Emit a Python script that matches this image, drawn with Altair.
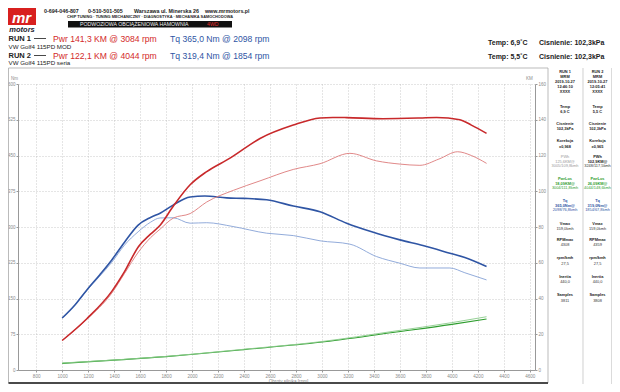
import altair as alt
import pandas as pd

# ---------------- data ----------------
rpm_tq1 = [1000, 1100, 1190, 1290, 1382, 1480, 1585, 1680, 1754, 1854, 1985, 2098, 2267, 2400, 2574, 2780, 2985, 3190, 3383, 3600, 3777, 3985, 4100, 4267]
tq1 = [109, 137, 168, 200, 231, 268, 304, 320, 329, 346, 363, 365, 361, 360, 357, 344, 332, 308, 290, 273, 261, 245, 236, 217]

rpm_tq2 = [1000, 1100, 1190, 1290, 1382, 1480, 1585, 1680, 1754, 1854, 1985, 2113, 2315, 2574, 2780, 2985, 3215, 3420, 3600, 3754, 3985, 4100, 4267]
tq2 = [109, 137, 167, 197, 226, 262, 290, 310, 319, 319.4, 308, 309, 301, 287, 282, 271, 264, 238, 224, 214, 214, 204, 189]

rpm_pw1 = [1000, 1190, 1382, 1480, 1587, 1680, 1754, 1856, 1985, 2113, 2292, 2523, 2779, 2985, 3084, 3190, 3469, 3754, 3882, 4062, 4150, 4267]
pw1 = [16.5, 28.7, 44, 55, 69, 76, 81, 91.7, 103.6, 111, 118.5, 129.5, 137, 141, 141.3, 141.2, 140.6, 141, 141.3, 140, 137, 132.4]

rpm_pw2 = [1000, 1190, 1382, 1480, 1587, 1680, 1754, 1856, 1985, 2113, 2318, 2523, 2779, 2985, 3215, 3420, 3600, 3754, 3900, 4044, 4150, 4267]
pw2 = [16.5, 28.4, 43, 54, 66, 74, 78.8, 85, 87.5, 94, 100.5, 105.8, 112.2, 115.4, 121.2, 117, 115.2, 114.5, 118, 122.1, 120, 115.6]

rpm_ls1 = [1000, 1400, 1800, 2010, 2400, 2985, 3546, 4000, 4267]
ls1 = [3.7, 5.5, 7.5, 8.8, 11.4, 15.5, 21, 25.5, 28.5]
rpm_ls2 = [1000, 1400, 1800, 2010, 2400, 2985, 3546, 4000, 4267]
ls2 = [3.9, 5.6, 7.6, 8.9, 11.6, 15.8, 21.6, 26.5, 29.8]

x_ticks = list(range(800, 4601, 200))
nm_ticks = list(range(0, 601, 75))
km_ticks = list(range(0, 161, 20))

panel_labels = ["RUN 1", "RUN 2"]
panel_dates = ["2019-10-27", "2019-10-27"]
panel_times = ["12:46:10", "12:05:41"]
panel_temp = ["6,9 C", "5,5 C"]
panel_press = ["102,3kPa", "102,3kPa"]
panel_korr = ["x0,968", "x0,965"]
panel_pwh = ["125,6KM@", "102,9KM@"]
panel_pwh_at = ["3005/109,8kmh", "3248/117,5kmh"]
panel_los = ["18,09KM@", "26,09KM@"]
panel_los_at = ["3004/111,8kmh", "4044/148,6kmh"]
panel_tq = ["365,0Nm@", "319,0Nm@"]
panel_tq_at = ["2098/76,8kmh", "1854/67,8kmh"]
panel_vmax = ["159,0kmh", "159,0kmh"]
panel_rpmmax = ["4308", "4359"]
panel_ratio = ["27,5", "27,5"]
panel_inertia = ["440,0", "440,0"]
panel_samples = ["3811", "3808"]

# ---------------- layout ----------------
W, H = 517, 286
OX, OY = 18, 84
FONT = "Liberation Sans"
RED = "#d32a2a"
BLUE = "#2f55a4"
GREEN = "#2f9e2f"
GRAY = "#8a8a8a"

one = alt.Data(values=[{"k": 0}])


def txt(s, x, y, size=5, color="#222", bold=False, align="center", italic=False):
    return alt.Chart(one).mark_text(
        text=s, fontSize=size, color=color, font=FONT,
        fontWeight="bold" if bold else "normal",
        fontStyle="italic" if italic else "normal",
        align=align, baseline="middle",
    ).encode(x=alt.value(x - OX), y=alt.value(y - OY))


def rect(x1, x2, y1, y2, fill="#000", opacity=1.0, stroke=None, sw=0.8):
    kw = dict(fill=fill, fillOpacity=opacity)
    if stroke:
        kw.update(stroke=stroke, strokeWidth=sw)
    return alt.Chart(one).mark_rect(**kw).encode(
        x=alt.value(x1 - OX), x2=alt.value(x2 - OX),
        y=alt.value(y1 - OY), y2=alt.value(y2 - OY))


def hrule(x1, x2, y, color="#999", sw=0.8):
    return alt.Chart(one).mark_rule(color=color, strokeWidth=sw).encode(
        x=alt.value(x1 - OX), x2=alt.value(x2 - OX), y=alt.value(y - OY))


def vrule(x, y1, y2, color="#999", sw=0.8):
    return alt.Chart(one).mark_rule(color=color, strokeWidth=sw).encode(
        x=alt.value(x - OX), y=alt.value(y1 - OY), y2=alt.value(y2 - OY))


x_enc = alt.X(
    "rpm:Q",
    scale=alt.Scale(domain=[660, 4640], nice=False, zero=False),
    axis=alt.Axis(values=x_ticks, format="d", title="Obroty silnika [rpm]",
                  grid=True, gridDash=[1, 2], gridColor="#b5b5b5", gridWidth=0.7,
                  labelFontSize=4.6, labelColor=GRAY, labelFont=FONT,
                  titleFontSize=4.6, titleColor=GRAY, titleFont=FONT,
                  titleFontWeight="normal", titlePadding=0, titleX=270,
                  tickColor="#999", tickSize=2, labelPadding=1.5,
                  domainColor="#999", labelOverlap=False),
)

nm_axis = alt.Axis(values=nm_ticks, title=None, grid=True, gridDash=[1, 2],
                   gridColor="#b5b5b5", gridWidth=0.7, labelFontSize=4.5,
                   labelColor=GRAY, labelFont=FONT, tickColor="#999",
                   tickSize=2, labelPadding=1, domainColor="#999")
km_axis = alt.Axis(values=km_ticks, title=None, orient="right", grid=False,
                   labelFontSize=4.5, labelColor=GRAY, labelFont=FONT,
                   tickColor="#999", tickSize=2, labelPadding=1,
                   domainColor="#999")


def line(rpms, vals, field, color, width, axis, domain):
    df = pd.DataFrame({"rpm": rpms, field: vals})
    return alt.Chart(df).mark_line(color=color, strokeWidth=width,
                                   interpolate="monotone").encode(
        x=x_enc,
        y=alt.Y(f"{field}:Q", scale=alt.Scale(domain=domain, nice=False),
                axis=axis),
    )


torque = alt.layer(
    line(rpm_tq2, tq2, "Nm", "#86a2d6", 0.9, nm_axis, [0, 600]),
    line(rpm_tq1, tq1, "Nm", BLUE, 1.6, nm_axis, [0, 600]),
)
power = alt.layer(
    line(rpm_ls1, ls1, "KM", GREEN, 1.1, km_axis, [0, 160]),
    line(rpm_ls2, ls2, "KM", "#8acb8a", 0.9, km_axis, [0, 160]),
    line(rpm_pw2, pw2, "KM", "#dc7a7a", 0.9, km_axis, [0, 160]),
    line(rpm_pw1, pw1, "KM", "#c8292b", 1.6, km_axis, [0, 160]),
)

# ---------------- decoration / frame ----------------
deco = [
    rect(8.5, 548, 68, 383, fill="#ffffff", opacity=0, stroke="#aaa", sw=0.8),
    rect(8.5, 548, 382, 384, fill="#4a4a4a"),
    vrule(583, 68, 384, "#bbb", 0.7),
    vrule(611.5, 68, 384, "#ccc", 0.7),
    # logo
    rect(8, 36, 8, 25, fill="#d8201f"),
    rect(68, 232, 21, 27.5, fill="#111"),
    hrule(34, 46, 38.5, "#333", 0.9),
    hrule(34, 46, 55.5, "#333", 0.9),
]

texts = [
    txt("mr", 21.5, 17.5, size=15, color="#ffffff", bold=True, italic=True),
    txt("motors", 22, 29.5, size=7.5, color="#1b1b2e", bold=True, italic=True),
    txt("0-694-046-807", 44, 11, size=5.3, bold=True, align="left"),
    txt("0-510-501-505", 88, 11, size=5.3, bold=True, align="left"),
    txt("Warszawa ul. Minerska 26", 134, 11, size=5.3, bold=True, align="left"),
    txt("www.mrmotors.pl", 205, 11, size=5.3, bold=True, align="left"),
    txt("CHIP TUNING · TUNING MECHANICZNY · DIAGNOSTYKA · MECHANIKA SAMOCHODOWA",
        150, 17, size=3.9, bold=True),
    txt("PODWOZIOWA OBCIĄŻENIOWA HAMOWNIA", 80, 24.3, size=5.2, color="#eeeeee",
        align="left"),
    txt("4WD", 207, 24.3, size=5.2, color="#e02a2a", align="left"),
    txt("RUN 1", 8.5, 38.5, size=7.5, bold=True, align="left"),
    txt("Pwr 141,3 KM @ 3084 rpm", 53, 39, size=8.6, color=RED, align="left"),
    txt("Tq 365,0 Nm @ 2098 rpm", 170, 39, size=8.6, color=BLUE, align="left"),
    txt("VW Golf4 115PD MOD", 8.5, 46.5, size=6.2, align="left"),
    txt("RUN 2", 8.5, 55.5, size=7.5, bold=True, align="left"),
    txt("Pwr 122,1 KM @ 4044 rpm", 53, 56, size=8.6, color=RED, align="left"),
    txt("Tq 319,4 Nm @ 1854 rpm", 170, 56, size=8.6, color=BLUE, align="left"),
    txt("VW Golf4 115PD seria", 8.5, 63.3, size=6.2, align="left"),
    txt("Temp: 6,9˚C", 488, 43, size=7, bold=True, align="left"),
    txt("Cisnienie: 102,3kPa", 539, 43, size=7, bold=True, align="left"),
    txt("Temp: 5,5˚C", 488, 57, size=7, bold=True, align="left"),
    txt("Cisnienie: 102,3kPa", 539, 57, size=7, bold=True, align="left"),
    txt("Nm", 11, 79, size=4.5, color=GRAY, align="left"),
    txt("KM", 526, 79, size=4.5, color=GRAY, align="left"),
]

cols = [565, 597.5]
for i, cx in enumerate(cols):
    rows = [
        (panel_labels[i], 72, True, "#222"),
        ("MRM", 77, True, "#222"),
        (panel_dates[i], 82, True, "#222"),
        (panel_times[i], 87, True, "#222"),
        ("XXXX", 92, True, "#222"),
        ("Temp", 107, True, "#222"),
        (panel_temp[i], 112, True, "#222"),
        ("Cisnienie", 124, True, "#222"),
        (panel_press[i], 129, True, "#222"),
        ("Korekcja", 141, True, "#222"),
        (panel_korr[i], 147, True, "#222"),
        ("PWh", 157, i == 1, "#999" if i == 0 else "#222"),
        (panel_pwh[i], 161.5, i == 1, "#999" if i == 0 else "#222"),
        (panel_pwh_at[i], 166, False, "#999" if i == 0 else "#333"),
        ("PwrLos", 179, True, GREEN),
        (panel_los[i], 183.5, True, GREEN),
        (panel_los_at[i], 188, False, GREEN),
        ("Tq", 201, True, BLUE),
        (panel_tq[i], 205.5, True, BLUE),
        (panel_tq_at[i], 210, False, BLUE),
        ("Vmax", 224, True, "#222"),
        (panel_vmax[i], 229, False, "#333"),
        ("RPMmax", 240, True, "#222"),
        (panel_rpmmax[i], 245, False, "#333"),
        ("rpm/kmh", 258, True, "#222"),
        (panel_ratio[i], 264, False, "#333"),
        ("Inertia", 277, True, "#222"),
        (panel_inertia[i], 282, False, "#333"),
        ("Samples", 295, True, "#222"),
        (panel_samples[i], 301, False, "#333"),
    ]
    for s, y, b, c in rows:
        texts.append(txt(s, cx, y, size=3.9, color=c, bold=b))

chart = alt.layer(*deco, torque, power, *texts).resolve_scale(
    y="independent"
).properties(
    width=W, height=H,
    padding={"left": 10, "top": 76, "right": 77, "bottom": 14},
    autosize=alt.AutoSizeParams(type="none"),
    background="#ffffff",
).configure_view(stroke=None)

chart.save("out.html", embed_options={"renderer": "svg", "actions": False})
